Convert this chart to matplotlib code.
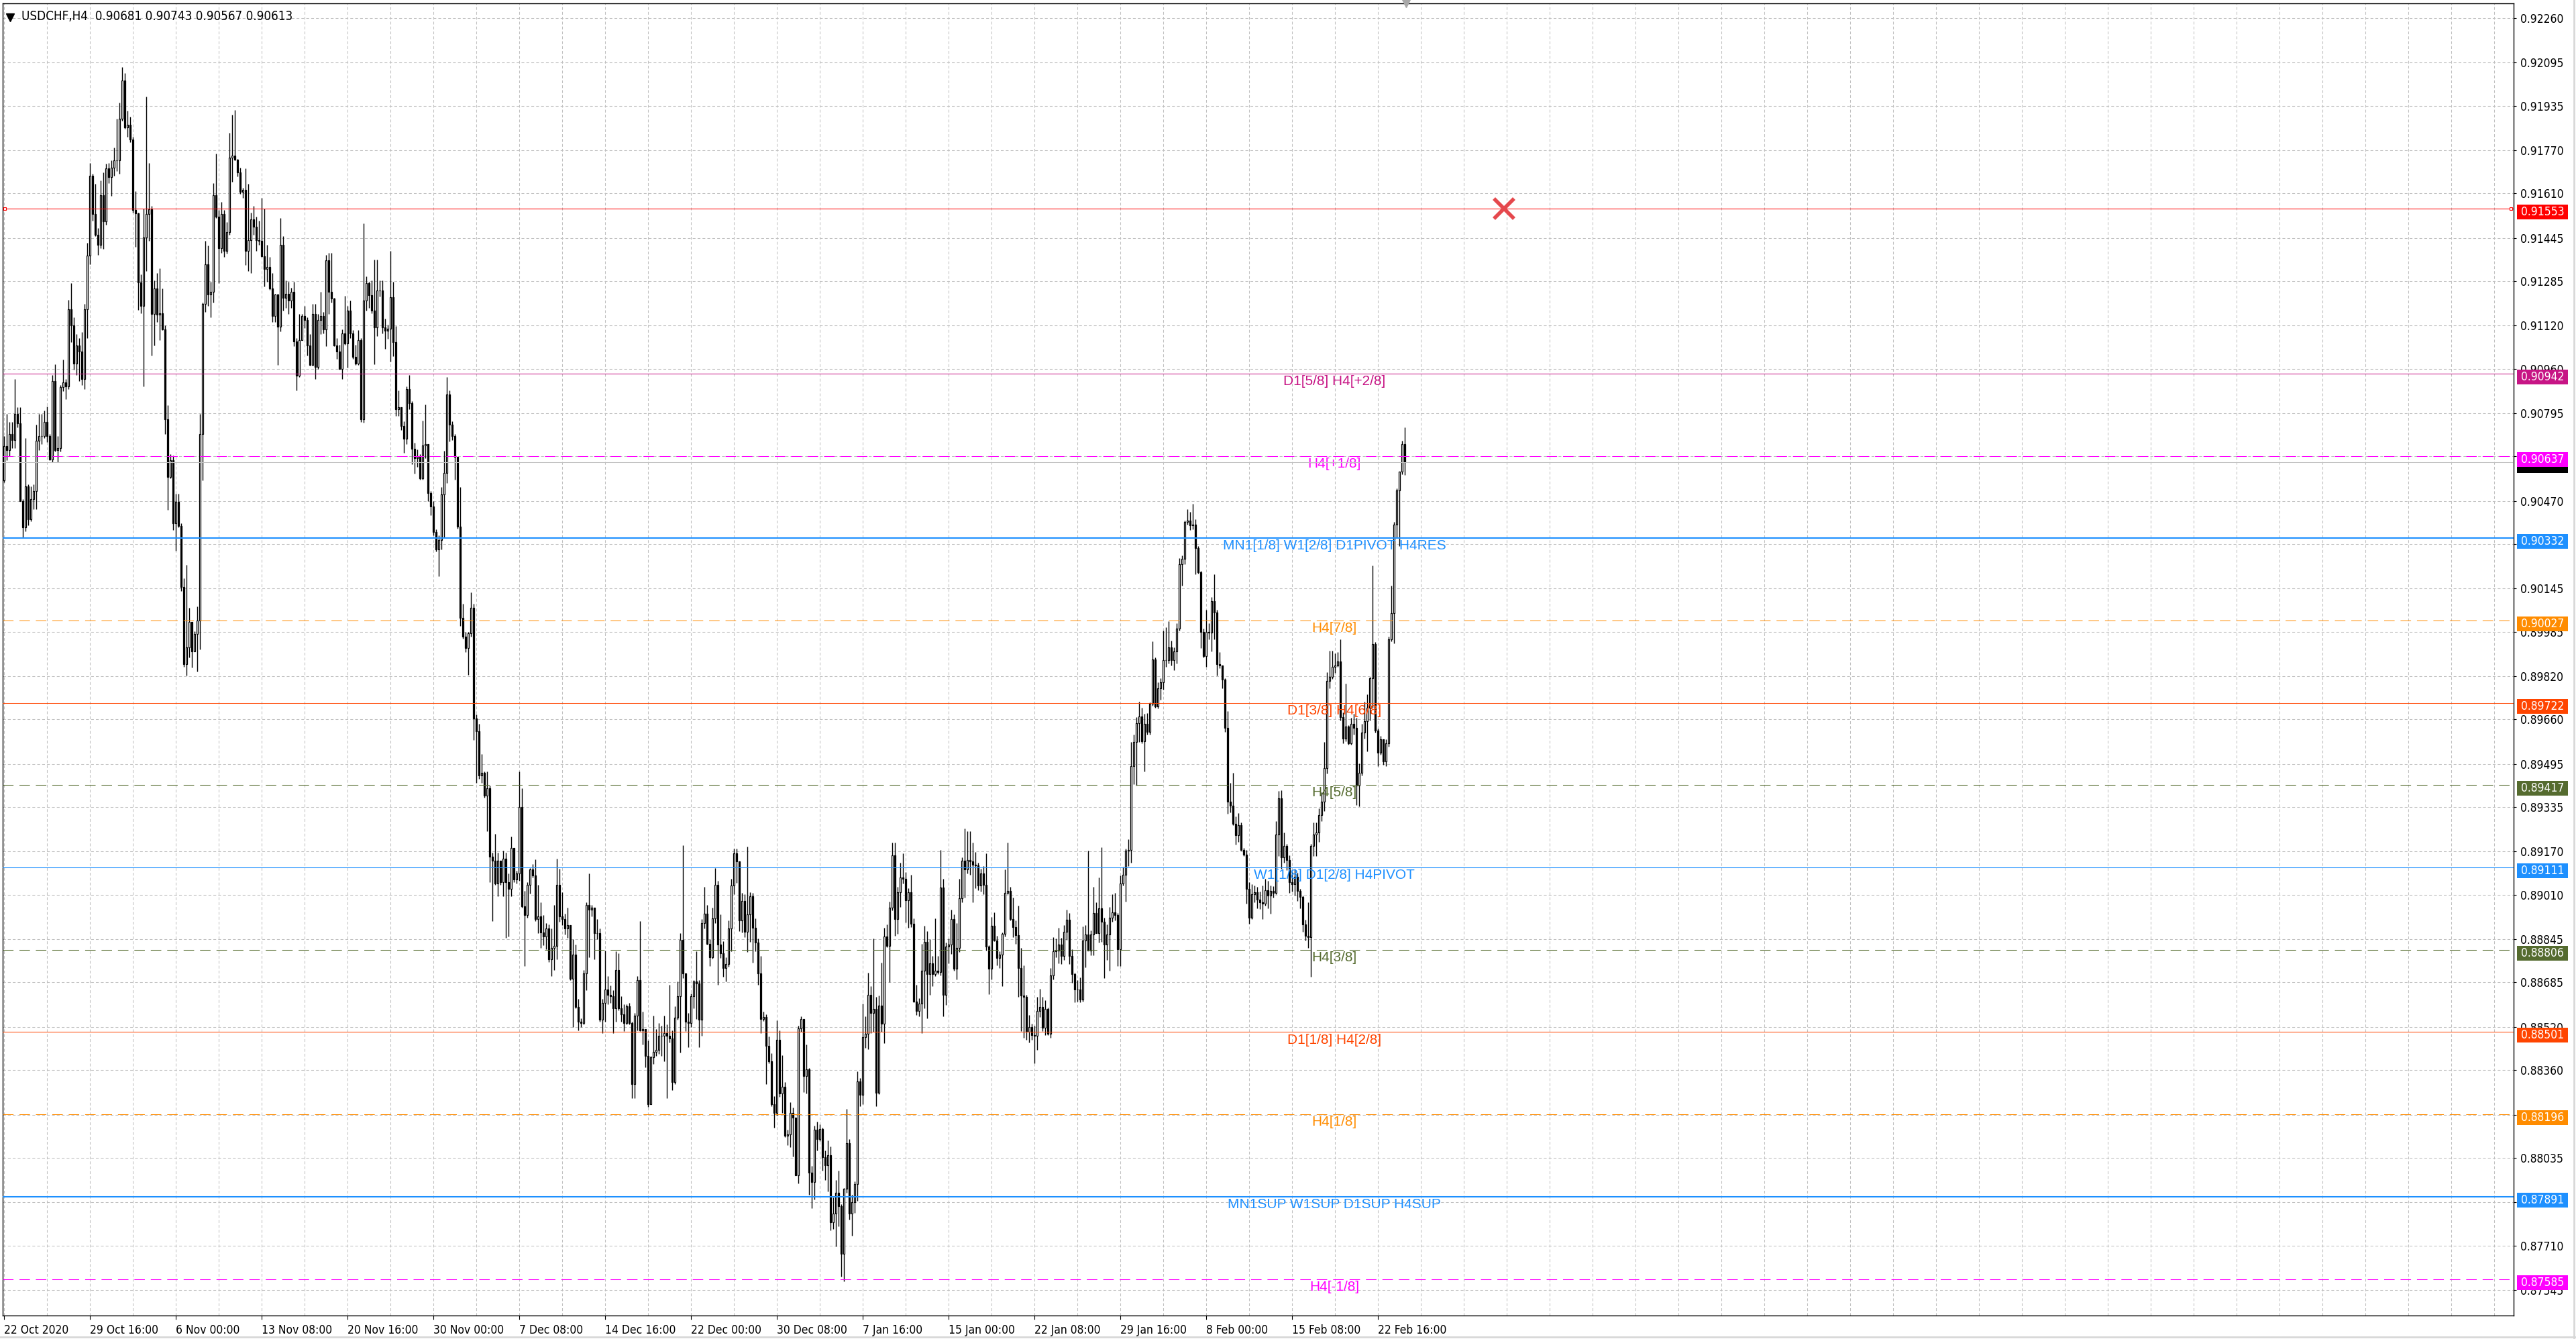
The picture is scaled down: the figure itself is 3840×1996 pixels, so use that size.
import numpy as np
import matplotlib
matplotlib.use("Agg")
import matplotlib.pyplot as plt
from matplotlib.patches import Rectangle
from matplotlib.lines import Line2D
from matplotlib.transforms import blended_transform_factory

# USDCHF H4 candles, prices in points (1e-5), open of each bar = previous close
first_open = 90546

# 22 Oct - 13 Nov
close_a = [90674, 90659, 90719, 90696, 90794, 90757, 90470, 90372, 90523, 90402,
           90478, 90508, 90693, 90711, 90711, 90764, 90711, 90624, 90915, 90659,
           90666, 90892, 90910, 90895, 91182, 91121, 90980, 91046, 91025, 90922,
           91182, 91379, 91676, 91533, 91457, 91420, 91604, 91507, 91703, 91671,
           91706, 91733, 91733, 91887, 92030, 91854, 91864, 91809, 91548, 91537,
           91281, 91194, 91447, 91533, 91552, 91164, 91257, 91161, 91167, 91106,
           90772, 90558, 90621, 90387, 90467, 90377, 90151, 89864, 89928, 90021,
           89913, 89976, 90026, 90719, 91201, 91347, 91236, 91246, 91604, 91525,
           91408, 91533, 91397, 91468, 91744, 91751, 91736, 91688, 91616, 91623,
           91397, 91438, 91513, 91488, 91438, 91435, 91378, 91329, 91337, 91257,
           91156, 91236, 91115, 91420, 91224, 91239, 91212, 91246, 91061, 90934,
           91066, 91156, 91141, 91046, 90975, 91164, 90968, 91141, 91156, 91106,
           91362, 91246, 91221, 91046, 91025, 90960, 91091, 91055, 91176, 91091,
           91005, 90980, 91066, 90772]
high_a = [90711, 90794, 90764, 90764, 90922, 90817, 90817, 90478, 90704, 90531,
          90523, 90531, 90754, 90794, 90794, 90805, 90820, 90719, 90937, 90976,
          90711, 90900, 90995, 90922, 91216, 91277, 91151, 91088, 91073, 91096,
          91201, 91427, 91724, 91683, 91646, 91483, 91658, 91688, 91721, 91724,
          91733, 91781, 91887, 91947, 92078, 92056, 91917, 91894, 91819, 91619,
          91540, 91311, 91555, 91970, 91724, 91563, 91287, 91314, 91332, 91257,
          91121, 90824, 90644, 90639, 90497, 90497, 90387, 90184, 90232, 90075,
          90018, 89988, 90078, 90794, 91206, 91435, 91417, 91284, 91649, 91759,
          91548, 91578, 91548, 91503, 91834, 91902, 91920, 91739, 91706, 91631,
          91703, 91646, 91540, 91563, 91525, 91510, 91593, 91555, 91420, 91374,
          91314, 91239, 91239, 91518, 91453, 91287, 91284, 91261, 91284, 91073,
          91164, 91164, 91194, 91151, 91088, 91201, 91201, 91164, 91246, 91171,
          91382, 91390, 91390, 91224, 91073, 91050, 91106, 91231, 91194, 91213,
          91103, 91050, 91103, 91073]
low_a = [90538, 90621, 90636, 90666, 90666, 90742, 90470, 90335, 90357, 90380,
         90395, 90440, 90440, 90659, 90681, 90704, 90689, 90621, 90613, 90654,
         90613, 90654, 90877, 90847, 90885, 91058, 90956, 90937, 90915, 90900,
         90885, 91073, 91347, 91510, 91453, 91382, 91408, 91405, 91495, 91649,
         91601, 91676, 91694, 91683, 91879, 91849, 91819, 91799, 91540, 91412,
         91179, 91167, 90895, 91322, 91435, 91010, 91046, 91133, 91066, 91103,
         90719, 90437, 90553, 90362, 90286, 90372, 90136, 89855, 89822, 89890,
         89852, 89920, 89837, 89920, 90546, 91171, 91194, 91151, 91206, 91518,
         91277, 91390, 91374, 91387, 91457, 91653, 91733, 91673, 91608, 91593,
         91344, 91322, 91314, 91457, 91397, 91420, 91374, 91266, 91284, 91254,
         91133, 91133, 90975, 91100, 91176, 91186, 91164, 91186, 91043, 90880,
         90930, 91066, 91110, 91010, 90971, 90971, 90922, 90960, 91088, 91091,
         91043, 91164, 91206, 91043, 90998, 90960, 90922, 91050, 90965, 91073,
         90998, 90975, 90975, 90764]

# 13 Nov - 21 Dec
close_b = [91212, 91277, 91233, 91176, 91113, 91250, 91250, 91113, 91101, 91108,
           91225, 91060, 90811, 90818, 90748, 90702, 90885, 90832, 90664, 90628,
           90634, 90554, 90676, 90681, 90499, 90449, 90354, 90290, 90326, 90495,
           90575, 90866, 90754, 90712, 90634, 90375, 90037, 89968, 89926, 89980,
           90073, 89664, 89616, 89453, 89462, 89377, 89405, 89152, 89137, 89052,
           89137, 89057, 89145, 89057, 89031, 89183, 89067, 89088, 89335, 88968,
           88934, 89046, 89103, 89082, 88920, 88931, 88871, 88856, 88884, 88772,
           88814, 88820, 89046, 88931, 88920, 88884, 88898, 88698, 88787, 88593,
           88540, 88534, 88719, 88972, 88955, 88962, 88867, 88867, 88546, 88610,
           88660, 88639, 88635, 88589, 88730, 88589, 88567, 88534, 88597, 88534,
           88308, 88561, 88694, 88508, 88512, 88413, 88234, 88407, 88428, 88434,
           88487, 88487, 88498, 88487, 88477, 88315, 88555, 88635, 88842, 88719,
           88540, 88534, 88635, 88688, 88681, 88546, 88905, 88941, 88829, 88778]
high_b = [91500, 91303, 91282, 91288, 91366, 91366, 91288, 91288, 91145, 91124,
          91398, 91282, 91119, 90881, 90792, 90765, 90896, 90938, 90839, 90685,
          90660, 90643, 90769, 90828, 90676, 90508, 90470, 90364, 90343, 90522,
          90655, 90929, 90881, 90765, 90718, 90634, 90522, 90090, 89985, 89985,
          90132, 90090, 89679, 89643, 89531, 89468, 89468, 89415, 89166, 89236,
          89166, 89109, 89173, 89166, 89088, 89225, 89124, 89099, 89468, 89405,
          89025, 89057, 89109, 89124, 89141, 89046, 88983, 88934, 88905, 88899,
          88884, 88972, 89145, 89107, 89019, 88941, 88962, 88898, 88846, 88825,
          88624, 88551, 88730, 88983, 89088, 88972, 88962, 88920, 88884, 88624,
          88804, 88709, 88673, 88656, 88800, 88793, 88635, 88603, 88603, 88610,
          88540, 88572, 88709, 88913, 88576, 88512, 88470, 88413, 88561, 88512,
          88534, 88525, 88561, 88529, 88677, 88508, 88597, 88688, 88867, 89194,
          88719, 88572, 88645, 88694, 88800, 88694, 88920, 89040, 88972, 88846]
low_b = [90761, 91176, 91187, 91166, 90976, 91081, 91229, 91092, 91035, 91071,
         90986, 91007, 90786, 90786, 90733, 90649, 90681, 90811, 90607, 90571,
         90596, 90550, 90550, 90628, 90470, 90417, 90343, 90284, 90191, 90290,
         90333, 90537, 90691, 90697, 90550, 90368, 90006, 89959, 89911, 89826,
         89968, 89584, 89426, 89441, 89426, 89369, 89246, 89057, 88913, 89046,
         89004, 89046, 89004, 88850, 88856, 89004, 89057, 89052, 89061, 88962,
         88745, 88926, 89015, 89074, 88913, 88867, 88814, 88823, 88808, 88761,
         88709, 88730, 88772, 88909, 88898, 88863, 88850, 88694, 88519, 88589,
         88508, 88519, 88529, 88656, 88778, 88931, 88772, 88846, 88540, 88498,
         88540, 88603, 88610, 88498, 88540, 88582, 88540, 88504, 88529, 88529,
         88255, 88255, 88508, 88504, 88455, 88371, 88224, 88234, 88382, 88413,
         88420, 88413, 88392, 88255, 88462, 88287, 88308, 88546, 88424, 88700,
         88504, 88445, 88519, 88589, 88550, 88445, 88487, 88884, 88825, 88745]

# 21 Dec - 25 Jan
close_c = [88923, 89046, 88826, 88794, 88739, 88753, 88884, 89044, 89165, 89134,
           88915, 88987, 88873, 88938, 89005, 88888, 88833, 88718, 88549, 88557,
           88451, 88393, 88233, 88201, 88473, 88274, 88297, 88116, 88121, 88201,
           88183, 87971, 88514, 88549, 88338, 88362, 87979, 87946, 88139, 88104,
           88142, 88037, 88007, 88045, 87796, 87829, 87905, 87855, 87679, 87920,
           88089, 87827, 87870, 87937, 88318, 88268, 88482, 88494, 88639, 88572,
           88587, 88276, 88599, 88531, 88856, 88821, 88962, 89157, 88920, 89020,
           89075, 89069, 88990, 89020, 88903, 88615, 88580, 88607, 88728, 88835,
           88716, 88756, 88716, 88728, 88724, 89037, 88639, 88818, 88826, 88920,
           88736, 88812, 88997, 89137, 89104, 89139, 89134, 89122, 89118, 89044,
           89090, 89046, 88818, 88736, 88896, 88841, 88777, 88789, 88865, 89017,
           89025, 88920, 88891, 88861, 88739, 88636, 88631, 88502, 88519, 88490,
           88487, 88580, 88595, 88517, 88587, 88494, 88712, 88800, 88803]
high_c = [88962, 89110, 89063, 88938, 88838, 88779, 88915, 89069, 89181, 89181,
          89099, 89017, 89011, 89189, 89020, 89017, 88923, 88847, 88783, 88578,
          88566, 88484, 88423, 88264, 88545, 88508, 88416, 88315, 88139, 88241,
          88221, 88139, 88525, 88560, 88435, 88455, 88367, 88005, 88154, 88168,
          88159, 88147, 88063, 88100, 88077, 87888, 87952, 87987, 87864, 87922,
          88215, 88104, 87899, 87948, 88356, 88330, 88607, 88560, 88721, 88671,
          88849, 88631, 88636, 88759, 88888, 88900, 88985, 89204, 89204, 89040,
          89130, 89163, 89095, 89034, 89083, 88923, 88677, 88627, 88829, 88894,
          88876, 88845, 88783, 88923, 88783, 89175, 89069, 88833, 88847, 88955,
          88938, 88906, 89069, 89149, 89255, 89245, 89245, 89204, 89169, 89128,
          89107, 89116, 89165, 88824, 88927, 88946, 88859, 88800, 88870, 89104,
          89204, 89040, 88999, 88915, 88970, 88814, 88748, 88639, 88564, 88533,
          88525, 88631, 88662, 88631, 88619, 88592, 88739, 88853, 88847]
low_c = [88774, 88906, 88677, 88777, 88707, 88689, 88744, 88800, 89011, 89055,
         88876, 88870, 88853, 88798, 88835, 88759, 88800, 88677, 88496, 88543,
         88309, 88385, 88227, 88147, 88192, 88262, 88201, 88112, 88081, 88075,
         88039, 87971, 87940, 88502, 88279, 88274, 87899, 87847, 87881, 88063,
         88098, 87987, 87952, 87911, 87765, 87771, 87706, 87782, 87595, 87577,
         87905, 87805, 87747, 87831, 87876, 88227, 88233, 88443, 88437, 88496,
         88502, 88227, 88271, 88502, 88461, 88815, 88686, 88952, 88859, 88865,
         88966, 89052, 88908, 88888, 88891, 88611, 88564, 88560, 88496, 88590,
         88552, 88639, 88671, 88709, 88716, 88712, 88560, 88601, 88756, 88791,
         88728, 88695, 88798, 88981, 88999, 89089, 89083, 88981, 89034, 89028,
         89023, 89013, 88803, 88642, 88695, 88838, 88748, 88739, 88672, 88856,
         89011, 88915, 88853, 88829, 88631, 88505, 88479, 88473, 88463, 88473,
         88385, 88435, 88557, 88505, 88490, 88490, 88479, 88697, 88779]

# 25 Jan - 24 Feb
close_d = [88825, 88783, 88874, 88917, 88783, 88717, 88660, 88660, 88622, 88840,
           88864, 88803, 88864, 88942, 88868, 88959, 88911, 88826, 88864, 88925,
           88945, 88935, 88807, 89053, 89085, 89173, 89177, 89486, 89576, 89647,
           89671, 89580, 89643, 89614, 89718, 89882, 89708, 89775, 89797, 89879,
           89879, 89928, 89879, 89913, 89996, 90235, 90255, 90392, 90397, 90380,
           90383, 90295, 90207, 89985, 89896, 89985, 89982, 90098, 90056, 89865,
           89861, 89808, 89629, 89355, 89341, 89273, 89230, 89267, 89177, 89159,
           89031, 88925, 89013, 89019, 88992, 88982, 88978, 89028, 89007, 89025,
           89017, 89234, 89367, 89149, 89192, 89139, 89056, 89049, 89077, 89025,
           89002, 88900, 88857, 88854, 89192, 89234, 89241, 89306, 89355, 89480,
           89804, 89818, 89854, 89861, 89875, 89669, 89590, 89633, 89572, 89643,
           89629, 89415, 89462, 89612, 89654, 89704, 89814, 89939, 89619, 89538,
           89586, 89505, 89572, 89956, 90053, 90383, 90509, 90580, 90681, 90613]
high_d = [88888, 88850, 88897, 88954, 88942, 88807, 88722, 88693, 88703, 88893,
          88897, 89173, 88878, 89039, 88982, 89073, 89187, 88925, 88900, 88964,
          89013, 89016, 88942, 89082, 89113, 89182, 89216, 89576, 89604, 89669,
          89725, 89704, 89680, 89683, 89723, 89950, 89889, 89799, 89814, 89989,
          90003, 90024, 89953, 89928, 90017, 90259, 90269, 90397, 90440, 90430,
          90459, 90402, 90302, 90210, 89996, 90067, 90017, 90113, 90198, 90067,
          89911, 89856, 89814, 89690, 89426, 89462, 89301, 89313, 89277, 89184,
          89177, 89057, 89049, 89045, 89039, 89021, 89045, 89070, 89063, 89045,
          89043, 89284, 89395, 89398, 89241, 89199, 89156, 89097, 89106, 89092,
          89031, 89007, 88917, 88982, 89199, 89277, 89277, 89330, 89391, 89576,
          89836, 89914, 89914, 89904, 89911, 89956, 89686, 89794, 89640, 89666,
          89680, 89666, 89498, 89643, 89725, 89754, 89818, 90231, 89946, 89626,
          89600, 89583, 89586, 89967, 90155, 90392, 90516, 90580, 90694, 90743]
low_d = [88757, 88754, 88769, 88843, 88754, 88683, 88612, 88615, 88612, 88615,
         88740, 88803, 88786, 88786, 88868, 88832, 88836, 88700, 88769, 88729,
         88911, 88914, 88746, 88746, 89045, 88985, 89116, 89130, 89419, 89415,
         89576, 89572, 89466, 89604, 89604, 89711, 89704, 89700, 89733, 89771,
         89854, 89868, 89861, 89842, 89868, 89989, 90155, 90235, 90383, 90363,
         90366, 90198, 90202, 89925, 89889, 89854, 89956, 89913, 89956, 89822,
         89851, 89775, 89615, 89310, 89315, 89267, 89196, 89206, 89173, 89153,
         88978, 88902, 88921, 88982, 88959, 88957, 88921, 88971, 88959, 88939,
         88999, 89011, 89153, 89106, 89130, 89102, 89016, 89021, 89007, 88988,
         88959, 88874, 88840, 88814, 88707, 89153, 89153, 89206, 89284, 89320,
         89459, 89775, 89811, 89832, 89854, 89657, 89572, 89580, 89566, 89566,
         89604, 89344, 89338, 89452, 89590, 89543, 89657, 89704, 89612, 89486,
         89529, 89491, 89486, 89558, 89950, 89942, 90335, 90302, 90568, 90567]

# Murrey / pivot levels and their captions
levels = [0.91553, 0.90942, 0.90637, 0.90613, 0.90332, 0.90027, 0.89722,
          0.89417, 0.89111, 0.88806, 0.88501, 0.88196, 0.87891, 0.87585]
level_names = ["", "D1[5/8] H4[+2/8]", "H4[+1/8]", "",
               "MN1[1/8] W1[2/8] D1PIVOT H4RES", "H4[7/8]", "D1[3/8] H4[6/8]",
               "H4[5/8]", "W1[1/8] D1[2/8] H4PIVOT", "H4[3/8]", "D1[1/8] H4[2/8]",
               "H4[1/8]", "MN1SUP W1SUP D1SUP H4SUP", "H4[-1/8]"]

price_ticks = [0.92260, 0.92095, 0.91935, 0.91770, 0.91610, 0.91445, 0.91285,
               0.91120, 0.90960, 0.90795, 0.90635, 0.90470, 0.90310, 0.90145,
               0.89985, 0.89820, 0.89660, 0.89495, 0.89335, 0.89170, 0.89010,
               0.88845, 0.88685, 0.88520, 0.88360, 0.88195, 0.88035, 0.87870,
               0.87710, 0.87545]
time_labels = ["22 Oct 2020", "29 Oct 16:00", "6 Nov 00:00", "13 Nov 08:00",
               "20 Nov 16:00", "30 Nov 00:00", "7 Dec 08:00", "14 Dec 16:00",
               "22 Dec 00:00", "30 Dec 08:00", "7 Jan 16:00", "15 Jan 00:00",
               "22 Jan 08:00", "29 Jan 16:00", "8 Feb 00:00", "15 Feb 08:00",
               "22 Feb 16:00"]
bars_per_label = 32

header = "USDCHF,H4  0.90681 0.90743 0.90567 0.90613"
cross_bar, cross_price = 559, 0.91553

# ---- styles ----
line_colors = ["#ff0000", "#c71585", "#ff00ff", "#c0c0c0", "#1e90ff", "#ff8c00",
               "#ff4500", "#556b2f", "#1e90ff", "#556b2f", "#ff4500", "#ff8c00",
               "#1e90ff", "#ff00ff"]
box_colors = list(line_colors)
box_colors[3] = "#000000"
dashed = [False, False, True, False, False, True, False, True, False, True,
          False, True, False, True]
widths = [0.75, 0.75, 0.75, 0.75, 1.5, 0.75, 0.75, 0.75, 0.75, 0.75, 0.75,
          0.75, 1.5, 0.75]

close = np.array(close_a + close_b + close_c + close_d) / 1e5
high = np.array(high_a + high_b + high_c + high_d) / 1e5
low = np.array(low_a + low_b + low_c + low_d) / 1e5
opens = np.concatenate([[first_open / 1e5], close[:-1]])
high = np.maximum(high, np.maximum(opens, close))
low = np.minimum(low, np.minimum(opens, close))
x = np.arange(len(close))

W, H = 3840, 1996
fig = plt.figure(figsize=(W / 100, H / 100), dpi=100)
fig.patch.set_facecolor("white")
ax_l, ax_r, ax_t, ax_b = 3.5, 3747, 5, 1961
ax = fig.add_axes([ax_l / W, (H - ax_b) / H, (ax_r - ax_l) / W, (ax_b - ax_t) / H])
ax.set_xlim(-0.625, 935.25)
ax.set_ylim(0.874501, 0.92315)
for s in ax.spines.values():
    s.set_color("black")
    s.set_linewidth(1.0)

# grid
grid_kw = dict(color="#c0c0c0", linestyle=(0, (4, 3)), linewidth=0.75)
ax.set_axisbelow(True)
ax.set_yticks(price_ticks)
ax.set_yticklabels([f"{v:.5f}" for v in price_ticks])
ax.yaxis.tick_right()
ax.tick_params(axis="y", length=3, pad=4, labelsize=12.5, colors="black")
xt = np.arange(len(time_labels)) * bars_per_label
ax.set_xticks(xt)
ax.set_xticklabels(time_labels)
ax.set_xticks(np.arange(0, 935, 16), minor=True)
ax.tick_params(axis="x", which="major", length=4, pad=5, labelsize=12.5)
ax.tick_params(axis="x", which="minor", length=0)
for t in ax.get_xticklabels():
    t.set_ha("left")
    t.set_fontstretch("condensed")
for t in ax.get_yticklabels():
    t.set_fontstretch("condensed")
ax.grid(True, axis="x", which="both", **grid_kw)
ax.grid(True, axis="y", which="major", **grid_kw)

# candles
up = close >= opens
bottom = np.minimum(opens, close)
height = np.maximum(np.abs(close - opens), 1e-6)
ax.vlines(x, low, high, color="black", linewidth=1.0, zorder=3)
ax.bar(x[up], height[up], bottom=bottom[up], width=0.55, color="white",
       edgecolor="black", linewidth=0.9, zorder=4)
ax.bar(x[~up], height[~up], bottom=bottom[~up], width=0.55, color="black",
       edgecolor="black", linewidth=0.9, zorder=4)

# level lines, captions and price boxes
tr = blended_transform_factory(ax.transAxes, ax.transData)
px_price = (0.92315 - 0.874501) / (ax_b - ax_t)
box_h = 22 * px_price
box_shift = 5 * px_price
box_x0 = (3752 - ax_l) / (ax_r - ax_l)
box_w = 76 / (ax_r - ax_l)
caption_bar = 495.75
for i, (lv, name) in enumerate(zip(levels, level_names)):
    ls = (0, (15, 8.5)) if dashed[i] else "-"
    ax.axhline(lv, color=line_colors[i], linestyle=ls, linewidth=widths[i], zorder=5)
    if name:
        ax.annotate(name, xy=(caption_bar, lv), xytext=(0, -1.5),
                    textcoords="offset points", ha="center", va="top",
                    color=line_colors[i], fontsize=15, family="Liberation Sans",
                    zorder=5)
draw_order = [0, 1, 3, 2, 4, 5, 6, 7, 8, 9, 10, 11, 12, 13]
for k, i in enumerate(draw_order):
    lv = levels[i]
    yc = lv - box_shift
    ax.add_patch(Rectangle((box_x0, yc - box_h / 2), box_w, box_h, transform=tr,
                           facecolor=box_colors[i], edgecolor="none",
                           clip_on=False, zorder=6 + k * 0.01))
    if box_colors[i] == "#000000":
        continue  # bid label sits hidden under the H4[+1/8] box
    ax.text(box_x0 + box_w / 2, yc, f"{lv:.5f}", transform=tr, color="white",
            ha="center", va="center", fontsize=12.5, fontstretch="condensed",
            clip_on=False, zorder=6.005 + k * 0.01)

# red line end handles and the cross object
ax.plot([0.001, 0.999], [levels[0], levels[0]], transform=tr, linestyle="none",
        marker="s", markersize=3.5, markerfacecolor="white",
        markeredgecolor="#ff0000", markeredgewidth=0.8, clip_on=False, zorder=6)
ax.plot([cross_bar], [cross_price], marker="x", markersize=22,
        markeredgewidth=4, color="#e5484d", zorder=7)

# chart shift marker at top
ax.plot([522.5], [1.0], transform=blended_transform_factory(ax.transData, ax.transAxes),
        marker="v", markersize=8, color="#a8a8a8", clip_on=False, zorder=7)

# header
fig.add_artist(Line2D([15 / W], [1 - 26 / H], marker="v", markersize=9,
                      color="black", transform=fig.transFigure))
fig.text(32 / W, 1 - 25 / H, header, ha="left", va="center", fontsize=13.5,
         fontstretch="condensed", color="black")

# window border
fig.add_artist(Line2D([3837 / W, 3837 / W], [0, 1], color="#d8d8d8", linewidth=2,
                      transform=fig.transFigure))
fig.add_artist(Line2D([0, 1], [3 / H, 3 / H], color="#d8d8d8", linewidth=2,
                      transform=fig.transFigure))

fig.savefig("out.png", dpi=100, facecolor="white")
